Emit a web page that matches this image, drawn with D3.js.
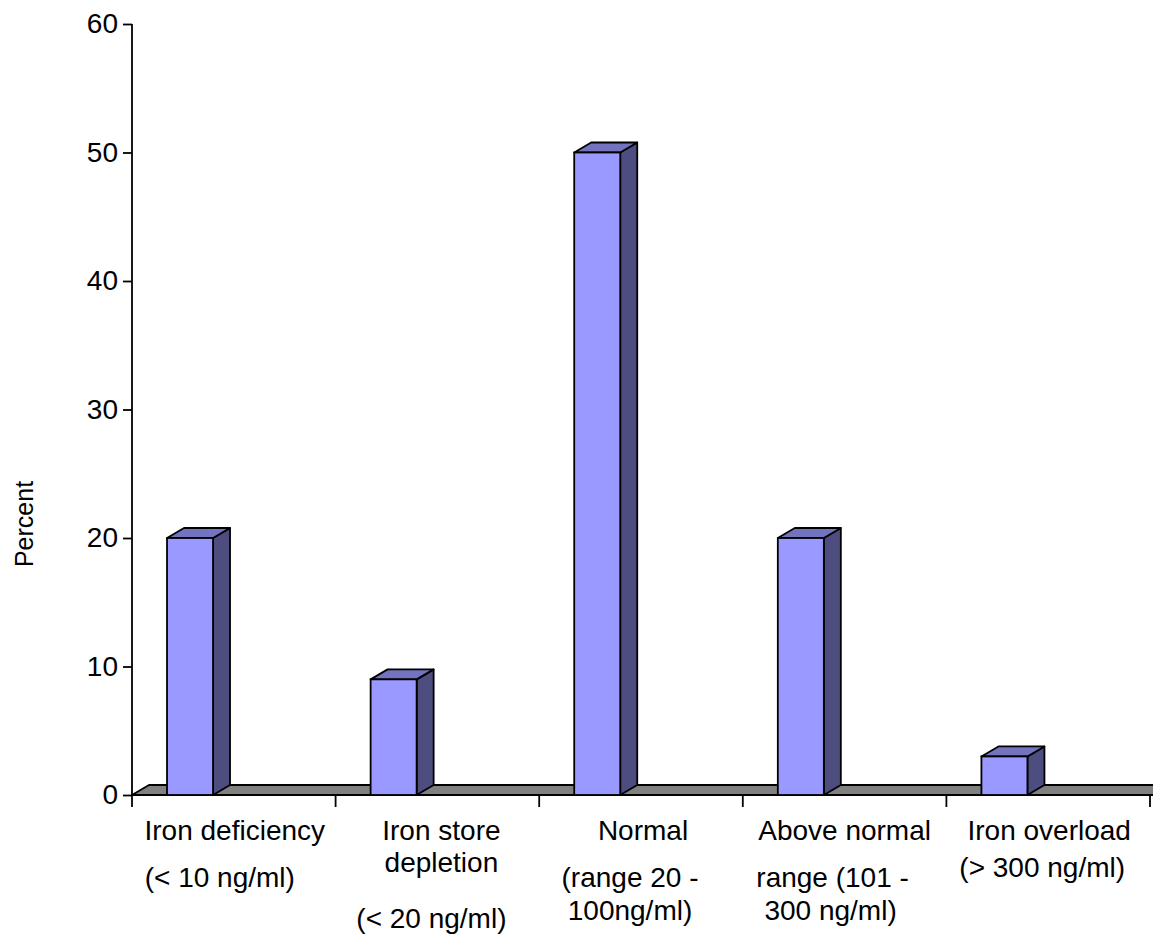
<!DOCTYPE html>
<html>
<head>
<meta charset="utf-8">
<script src="https://cdn.jsdelivr.net/npm/d3@7"></script>
<style>
  html, body { margin: 0; padding: 0; background: #fff; }
  svg { display: block; font-family: Arial, "Liberation Sans", sans-serif; }
</style>
</head>
<body>
<svg id="chart" width="1153" height="935"></svg>
<script>
// Serum ferritin categories and share of subjects (%)
const categories = ["Iron deficiency", "Iron store depletion", "Normal", "Above normal", "Iron overload"];
const percents = [20, 9, 50, 20, 3];
const yTicks = [0, 10, 20, 30, 40, 50, 60];

// Category label lines as printed under each column
const labelLines = [
  ["Iron deficiency", "(< 10 ng/ml)"],
  ["Iron store", "depletion", "(< 20 ng/ml)"],
  ["Normal", "(range 20 -", "100ng/ml)"],
  ["Above normal", "range (101 -", "300 ng/ml)"],
  ["Iron overload", "(> 300 ng/ml)"]
];
// Per-line horizontal nudge and baseline of the wrapped labels
const labelDx = [[1, -14], [4, 4, -6], [2, -11, -11], [0, -12, -14], [1, -6]];
const labelY = [[840, 887], [840, 872, 928], [840, 887, 920], [840, 887, 920], [840, 877]];

const svg = d3.select("#chart");
const plotLeft = 132, plotRight = 1150, plotTop = 24, base = 795;
const depthX = 17, depthY = -10;
const sw = 1.8;

const x = d3.scaleBand().domain(categories).range([plotLeft, plotRight]).padding(0);
const y = d3.scaleLinear().domain([0, 60]).range([base, plotTop]);
const bw = x.bandwidth();

// Floor slab
svg.append("path")
  .attr("d", `M${plotLeft},${base} L${plotRight + 10},${base} L${plotRight + 10 + depthX},${base + depthY} L${plotLeft + depthX},${base + depthY} Z`)
  .attr("fill", "#808080").attr("stroke", "#000").attr("stroke-width", sw)
  .attr("stroke-linejoin", "round");

// 3D columns
const barG = svg.append("g");
const faceLeft = 0.172, faceWidth = 0.226;
categories.forEach((c, i) => {
  const x0 = x(c) + faceLeft * bw;
  const w = faceWidth * bw;
  const yt = y(percents[i]);
  const g = barG.append("g");
  // side face
  g.append("path")
    .attr("d", `M${x0 + w},${base} L${x0 + w},${yt} L${x0 + w + depthX},${yt + depthY} L${x0 + w + depthX},${base + depthY} Z`)
    .attr("fill", "#4d4d80").attr("stroke", "#000").attr("stroke-width", sw).attr("stroke-linejoin", "round");
  // top face
  g.append("path")
    .attr("d", `M${x0},${yt} L${x0 + depthX},${yt + depthY} L${x0 + w + depthX},${yt + depthY} L${x0 + w},${yt} Z`)
    .attr("fill", "#7373bf").attr("stroke", "#000").attr("stroke-width", sw).attr("stroke-linejoin", "round");
  // front face
  g.append("rect")
    .attr("x", x0).attr("y", yt).attr("width", w).attr("height", base - yt)
    .attr("fill", "#9999ff").attr("stroke", "#000").attr("stroke-width", sw);
});

// Y axis
const yAxis = d3.axisLeft(y).tickValues(yTicks).tickSize(9).tickPadding(5).tickFormat(d3.format("d"));
const yg = svg.append("g").attr("transform", `translate(${plotLeft},0)`).call(yAxis);
yg.select(".domain").attr("stroke", "#000").attr("stroke-width", sw).attr("d", `M0,${plotTop}V${base + 12}`);
yg.selectAll(".tick line").attr("stroke", "#000").attr("stroke-width", sw);
yg.selectAll(".tick text").attr("font-size", 28).attr("fill", "#000")
  .attr("font-family", "Arial, 'Liberation Sans', sans-serif");

// X axis: separators between categories
const bounds = categories.map(c => x(c) + bw);
svg.append("g").selectAll("line").data(bounds).join("line")
  .attr("x1", d => d).attr("x2", d => d)
  .attr("y1", base).attr("y2", base + 12)
  .attr("stroke", "#000").attr("stroke-width", sw);

// Category labels
const lab = svg.append("g").attr("font-size", 28).attr("fill", "#000").attr("text-anchor", "middle");
labelLines.forEach((lines, i) => {
  const cx = x(categories[i]) + bw / 2;
  lines.forEach((t, j) => {
    lab.append("text")
      .attr("x", cx + labelDx[i][j])
      .attr("y", labelY[i][j])
      .text(t);
  });
});

// Y axis title
svg.append("text")
  .attr("transform", `translate(33,524) rotate(-90)`)
  .attr("text-anchor", "middle")
  .attr("font-size", 25)
  .attr("fill", "#000")
  .text("Percent");
</script>
</body>
</html>
